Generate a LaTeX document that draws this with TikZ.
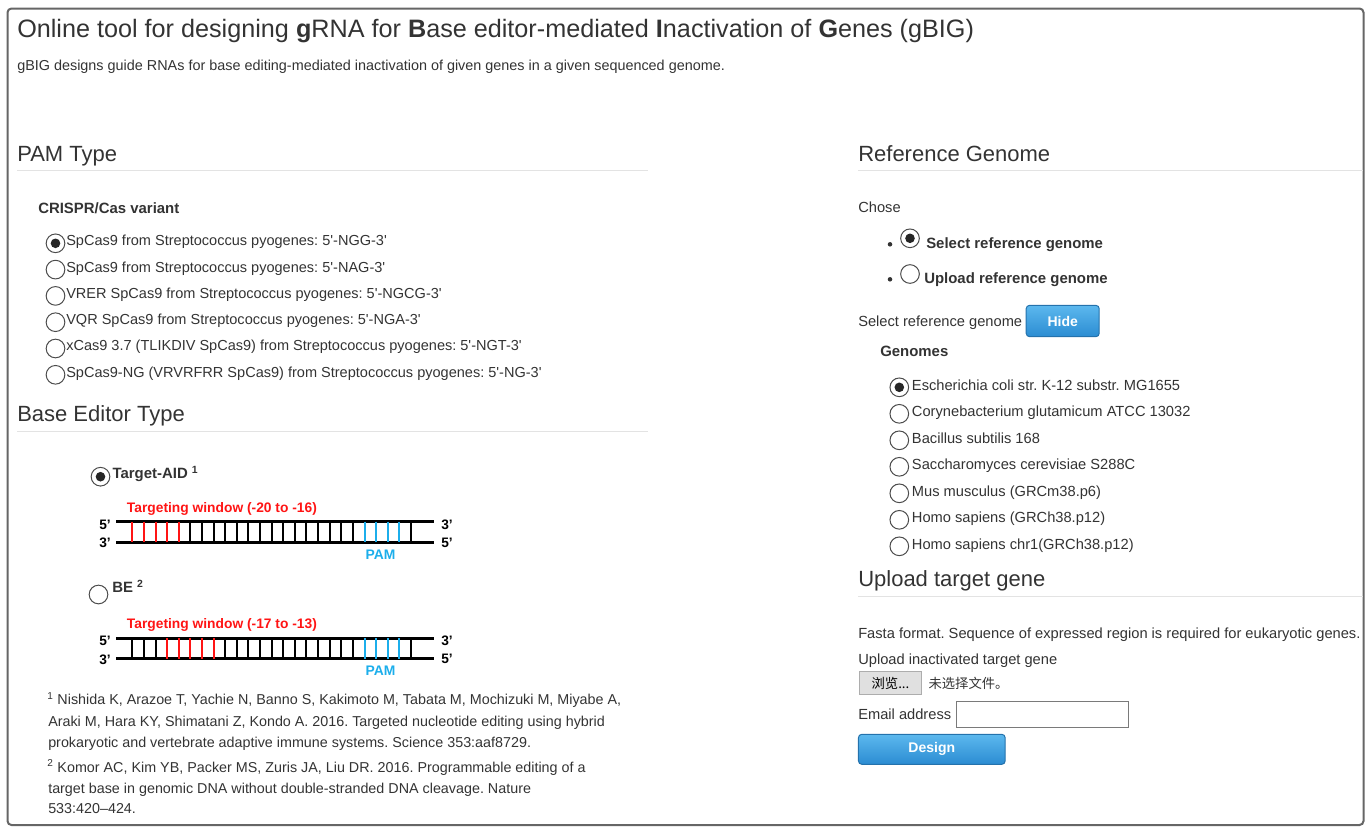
\documentclass[tikz,border=0pt]{standalone}
\usepackage{fontspec}
\setmainfont{Liberation Sans}
\newfontfamily\cjkfont{Noto Sans CJK SC}
\usetikzlibrary{positioning}
\definecolor{ink}{HTML}{333333}
\definecolor{rulegray}{HTML}{E3E3E3}
\definecolor{framegray}{HTML}{666666}
\definecolor{winred}{HTML}{FF1414}
\definecolor{pamblue}{HTML}{1CAEEB}
\definecolor{btntop}{HTML}{5CB8EE}
\definecolor{btnbot}{HTML}{2B8CD2}
\definecolor{btnedge}{HTML}{2472AC}
\newcommand{\sq}{\textquotesingle}
\tikzset{
  pagetitle/.style={anchor=base west, inner sep=0pt, text=ink,
    font=\fontsize{18.9}{22}\selectfont},
  heading/.style={anchor=base west, inner sep=0pt, text=ink,
    font=\fontsize{16.5}{19}\selectfont},
  bodytext/.style={anchor=base west, inner sep=0pt, text=ink,
    font=\fontsize{11}{13}\selectfont},
  strong/.style={bodytext, font=\fontsize{11.2}{13}\selectfont\bfseries},
  hline/.style={draw=rulegray, line width=0.75pt},
  radio/.style={circle, draw=black!70, fill=white, line width=0.75pt,
    minimum size=14pt, inner sep=0pt},
  radioon/.style={radio, path picture={
    \fill[black!85] (path picture bounding box.center) circle (3.6pt);}},
  bulletdot/.style={circle, fill=ink, minimum size=3.4pt, inner sep=0pt},
  strand/.style={line width=2.25pt},
  rung/.style={line width=1.5pt},
  endlabel/.style={inner sep=0pt, font=\fontsize{10.3}{12}\selectfont\bfseries},
  winlabel/.style={anchor=base west, inner sep=0pt, text=winred,
    font=\fontsize{10.35}{12}\selectfont\bfseries},
  pamlabel/.style={inner sep=0pt, text=pamblue,
    font=\fontsize{10.4}{12}\selectfont\bfseries},
  bluebutton/.style={rectangle, rounded corners=2.5pt, draw=btnedge,
    top color=btntop, bottom color=btnbot, text=white, line width=0.75pt,
    font=\fontsize{10.5}{12}\selectfont\bfseries},
  graybutton/.style={rectangle, draw=black!32, fill=black!12, line width=0.75pt,
    minimum width=46.8pt, minimum height=17pt, inner sep=0pt, text=black,
    font=\cjkfont\fontsize{10}{12}\selectfont},
  inputbox/.style={rectangle, draw=black!52, fill=white, line width=0.75pt,
    minimum width=129pt, minimum height=19.2pt, inner sep=0pt},
}
\begin{document}
\frenchspacing
\begin{tikzpicture}[x=0.75pt, y=-0.75pt]
  \useasboundingbox (0,0) rectangle (1369,828);
  \draw[framegray, line width=1.5pt, rounded corners=3pt] (7.5,8.5) rectangle (1363.5,825);
  % header
  \node[pagetitle] (title) at (17,37.5) {Online tool for designing \textbf{g}RNA for \textbf{B}ase editor-mediated \textbf{I}nactivation of \textbf{G}enes (gBIG)};
  \node[bodytext, font=\fontsize{10.8}{13}\selectfont] (intro) at (17,70) {gBIG designs guide RNAs for base editing-mediated inactivation of given genes in a given sequenced genome.};

  % PAM type
  \node[heading] (pamhead) at (17,161.7) {PAM Type};
  \draw[hline] (17,170.5) -- (648,170.5);
  \node[strong] (casvar) at (38,213) {CRISPR/Cas variant};
  \foreach \t [count=\k from 0] in {%
      {SpCas9 from Streptococcus pyogenes: 5\sq-NGG-3\sq},
      {SpCas9 from Streptococcus pyogenes: 5\sq-NAG-3\sq},
      {VRER SpCas9 from Streptococcus pyogenes: 5\sq-NGCG-3\sq},
      {VQR SpCas9 from Streptococcus pyogenes: 5\sq-NGA-3\sq},
      {xCas9 3.7 (TLIKDIV SpCas9) from Streptococcus pyogenes: 5\sq-NGT-3\sq},
      {SpCas9-NG (VRVRFRR SpCas9) from Streptococcus pyogenes: 5\sq-NG-3\sq}}{
    \node[radio] (pam\k) at (55.5,{243.3+26.3*\k}) {};
    \node[bodytext, font=\fontsize{10.9}{13}\selectfont] (pamtxt\k) at (66,{245.7+26.3*\k}) {\t};
  }
  \fill[black!85] (pam0.center) circle (3.6pt);

  % base editor type
  \node[heading] (behead) at (17,421) {Base Editor Type};
  \draw[hline] (17,431) -- (648,431);
  \node[radioon] (aid) at (100.5,476.7) {};
  \node[strong] (aidtxt) at (112.3,478.5) {Target-AID \textsuperscript{1}};
  \node[radio] (be) at (98.5,594.5) {};
  \node[strong] (betxt) at (112,592.7) {BE \textsuperscript{2}};
  \foreach \dy/\rf/\win/\nm in {0/0/{(-20 to -16)}/aid, 116.3/3/{(-17 to -13)}/be}{
    \begin{scope}[shift={(0,\dy)}]
      \node[winlabel] (\nm-win) at (126.7,512) {Targeting window \win};
      \draw[strand] (116,521.7) -- (434,521.7);
      \draw[strand] (116,542.3) -- (434,542.3);
      \foreach \i in {0,...,24}{
        \pgfmathtruncatemacro\rel{\i-\rf}
        \ifnum\rel<0 \def\rc{black}\else\ifnum\rel<5 \def\rc{winred}\else\def\rc{black}\fi\fi
        \ifnum\i>19 \ifnum\i<24 \def\rc{pamblue}\fi\fi
        \draw[rung, draw=\rc] ({132.3+11.61*\i},521.7) -- ({132.3+11.61*\i},542.3);
      }
      \node[endlabel] (\nm-5l) at (105,524.8) {5’};
      \node[endlabel] (\nm-3l) at (105,543) {3’};
      \node[endlabel] (\nm-3r) at (447,524.8) {3’};
      \node[endlabel] (\nm-5r) at (447,543) {5’};
      \node[pamlabel] (\nm-pam) at (380.5,554.5) {PAM};
    \end{scope}
  }

  % references
  \foreach \y/\x/\ln [count=\k] in {%
      704.5/47/{\textsuperscript{1} Nishida K, Arazoe T, Yachie N, Banno S, Kakimoto M, Tabata M, Mochizuki M, Miyabe A,},
      726/48/{Araki M, Hara KY, Shimatani Z, Kondo A. 2016. Targeted nucleotide editing using hybrid},
      747/48/{prokaryotic and vertebrate adaptive immune systems. Science 353:aaf8729.},
      772/47/{\textsuperscript{2} Komor AC, Kim YB, Packer MS, Zuris JA, Liu DR. 2016. Programmable editing of a},
      793/48/{target base in genomic DNA without double-stranded DNA cleavage. Nature},
      813.5/48/{533:420–424.}}{
    \node[bodytext, font=\fontsize{10.75}{13}\selectfont] (ref\k) at (\x,\y) {\ln};
  }

  % reference genome
  \node[heading] (refhead) at (858,161.5) {Reference Genome};
  \draw[hline] (858,170.5) -- (1362.5,170.5);
  \node[bodytext] (chose) at (858,212.7) {Chose};
  \node[bulletdot] (b1) at (890,244.3) {};
  \node[radioon] (selref) at (910,238.3) {};
  \node[strong] (selreftxt) at (926,248.3) {Select reference genome};
  \node[bulletdot] (b2) at (890,279.3) {};
  \node[radio] (upref) at (910,274) {};
  \node[strong] (upreftxt) at (924,283.3) {Upload reference genome};
  \node[bodytext] (selgen) at (858,326) {Select reference genome};
  \node[bluebutton, minimum width=54.75pt, minimum height=23.5pt] (hide) at (1062.7,321) {Hide};
  \node[strong] (genhead) at (880,356.7) {Genomes};
  \foreach \t [count=\k from 0] in {%
      {Escherichia coli str. K-12 substr. MG1655},
      {Corynebacterium glutamicum ATCC 13032},
      {Bacillus subtilis 168},
      {Saccharomyces cerevisiae S288C},
      {Mus musculus (GRCm38.p6)},
      {Homo sapiens (GRCh38.p12)},
      {Homo sapiens chr1(GRCh38.p12)}}{
    \node[radio] (gen\k) at (899.3,{387.3+26.5*\k}) {};
    \node[bodytext] (gentxt\k) at (911.7,{390+26.5*\k}) {\t};
  }
  \fill[black!85] (gen0.center) circle (3.6pt);

  % upload target gene
  \node[heading] (uphead) at (858,586.7) {Upload target gene};
  \draw[hline] (858,596) -- (1362.5,596);
  \node[bodytext] (fasta) at (858,638.3) {Fasta format. Sequence of expressed region is required for eukaryotic genes.};
  \node[bodytext] (uplabel) at (858,664) {Upload inactivated target gene};
  \node[graybutton] (browse) at (890.5,683) {浏览...};
  \node[bodytext, anchor=west, font=\cjkfont\fontsize{10}{12}\selectfont] (nofile) at (928.3,683) {未选择文件。};
  \node[bodytext] (email) at (858,719.3) {Email address};
  \node[inputbox] (emailbox) at (1042,714.5) {};
  \node[bluebutton, minimum width=110pt, minimum height=22.5pt] (design) at (931.8,749.3) {Design};
\end{tikzpicture}
\end{document}
